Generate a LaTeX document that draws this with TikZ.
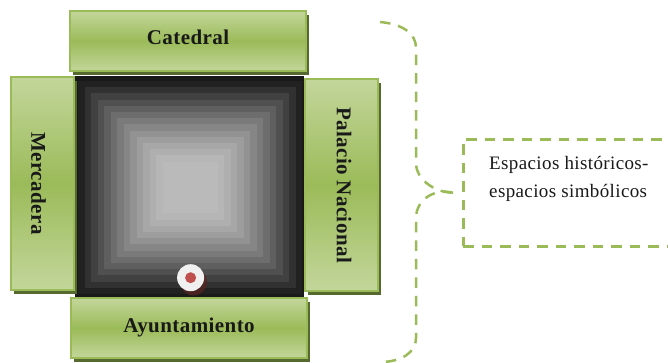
\documentclass[tikz,border=0pt]{standalone}
\usepackage{fontspec}
\usepackage{graphicx}
\setmainfont{Liberation Serif}
\usetikzlibrary{shadows,calc}
\definecolor{gmid}{HTML}{9BBB59}
\definecolor{glight}{HTML}{C3D69B}
\definecolor{gshadow}{HTML}{566A2F}
\definecolor{dotred}{HTML}{C0504D}
\definecolor{dotwhite}{HTML}{F0F0F0}
\tikzset{
  x=1pt,y=-1pt,
  panel/.style={rectangle,anchor=north west,inner sep=0pt,
    draw=gmid,line width=2pt,
    top color=glight,bottom color=glight,middle color=gmid,
    font=\fontsize{21}{23}\selectfont\bfseries\addfontfeature{LetterSpace=2},text=black!90,
    general shadow={fill=gshadow,shadow xshift=2.5pt,shadow yshift=-3.5pt}},
  dashline/.style={draw=gmid,line width=2.5pt,dash pattern=on 10.5pt off 8pt},
  caption/.style={anchor=north west,inner sep=0pt,align=left,
    font=\fontsize{19}{28}\selectfont\addfontfeature{LetterSpace=2},text=black!90},
}
\begin{document}
\begin{tikzpicture}
\useasboundingbox (0,0) rectangle (668,362);
% stepped square
\fill[black!90] (75,76) rectangle (304,297);
\foreach \i in {0,...,13}{
  \pgfmathsetmacro{\g}{13+60*(1-(1-\i/13)^1.4)}
  \pgfmathsetmacro{\insx}{1+\i*6.5}
  \pgfmathsetmacro{\insy}{2+\i*6.2}
  \fill[black!\fpeval{100-\g}] (77+\insx,79+\insy) rectangle (303-\insx,296-\insy);
}
% dot
\fill[dotred!45!black,opacity=.75] (193.5,282) circle (13.5);
\node[circle,fill=dotwhite,minimum size=27pt,inner sep=0pt] (dot) at (190.6,277.7) {};
\node[circle,fill=dotred,minimum size=11pt,inner sep=0pt] (dotc) at (dot.center) {};
% panels
\node[panel,minimum width=236pt,minimum height=60pt] (cat) at (69,10) {\raisebox{8pt}{Catedral}};
\node[panel,minimum width=63pt,minimum height=213pt] (mer) at (10,76) {\kern-8pt\rotatebox{-90}{Mercadera}};
\node[panel,minimum width=73pt,minimum height=212pt] (pal) at (304,78) {\kern5pt\rotatebox{-90}{Palacio Nacional}};
\node[panel,minimum width=236pt,minimum height=60pt] (ayu) at (70,297) {\raisebox{6pt}{Ayuntamiento}};
% caption box
\node[dashline,rectangle,anchor=north west,
  minimum width=240pt,minimum height=107pt,inner sep=0pt] (box) at (462,138) {};
\node[caption] (txt) at (489,156) {Espacios históricos-\\espacios simbólicos};
% brace
\coordinate (tip) at ($(box.west)+(-9,0)$);
\coordinate (bt) at (380,22);
\coordinate (bb) at (380,362);
\draw[dashline] (bt) .. controls (402,24) and (416,33) .. (416,48) -- (416,165)
  .. controls (417,178) and (432,192) .. (tip);
\draw[dashline] (tip) .. controls (434,188) and (416,200) .. (416,218) -- (416,338)
  .. controls (416,352) and (402,362) .. (bb);
\end{tikzpicture}
\end{document}
